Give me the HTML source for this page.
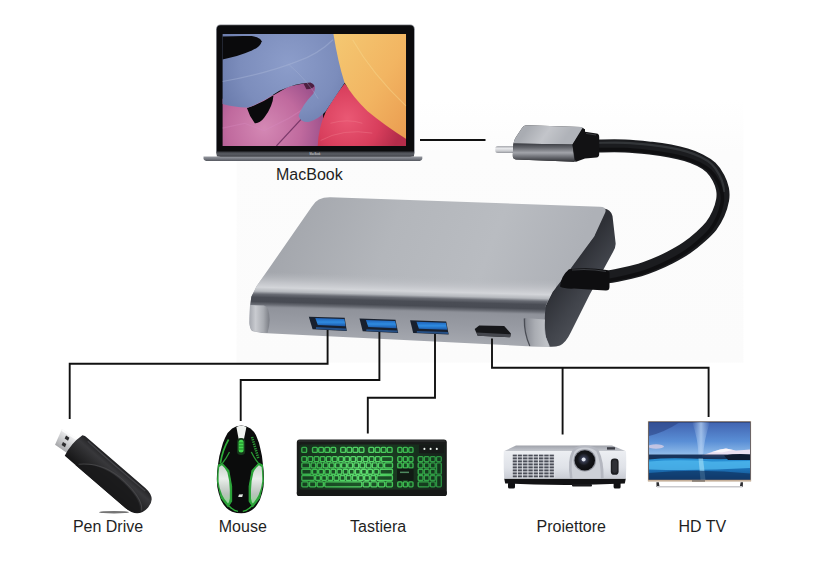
<!DOCTYPE html>
<html lang="it">
<head>
<meta charset="utf-8">
<title>Hub USB-C</title>
<style>
html,body{margin:0;padding:0;background:#fff;}
body{width:814px;height:584px;overflow:hidden;position:relative;font-family:"Liberation Sans",sans-serif;}
svg{position:absolute;left:0;top:0;display:block;}
.lbl{position:absolute;font-size:16px;line-height:18px;color:#1f1f1f;white-space:nowrap;transform:translateX(-50%);}
</style>
</head>
<body>
<svg width="814" height="584" viewBox="0 0 814 584">
<defs>
<clipPath id="cScreen"><rect x="30" y="37" width="748" height="455"/></clipPath>
<linearGradient id="gBase" x1="0" y1="0" x2="0" y2="1"><stop offset="0" stop-color="#9a9da4"/><stop offset=".45" stop-color="#7c7f87"/><stop offset="1" stop-color="#55585f"/></linearGradient>
<linearGradient id="gHinge" x1="0" y1="0" x2="0" y2="1"><stop offset="0" stop-color="#33353a"/><stop offset=".5" stop-color="#5a5d64"/><stop offset="1" stop-color="#44464c"/></linearGradient>
<radialGradient id="gPurple" gradientUnits="userSpaceOnUse" cx="200" cy="420" r="300"><stop offset="0" stop-color="#d488b4"/><stop offset=".5" stop-color="#c06a9e"/><stop offset="1" stop-color="#8a4482"/></radialGradient>
<radialGradient id="gRed" gradientUnits="userSpaceOnUse" cx="540" cy="380" r="220"><stop offset="0" stop-color="#ea5874"/><stop offset=".6" stop-color="#d83e5c"/><stop offset="1" stop-color="#b42c4a"/></radialGradient>
<radialGradient id="gBlue" gradientUnits="userSpaceOnUse" cx="300" cy="160" r="330"><stop offset="0" stop-color="#8c9dca"/><stop offset=".6" stop-color="#7c8dbc"/><stop offset="1" stop-color="#6677a8"/></radialGradient>
<linearGradient id="gYellow" x1="0" y1="0" x2="1" y2="1"><stop offset="0" stop-color="#f4c872"/><stop offset=".55" stop-color="#f2b562"/><stop offset="1" stop-color="#ea9c50"/></linearGradient>
<linearGradient id="gPlugTop" gradientUnits="userSpaceOnUse" x1="530" y1="125" x2="560" y2="146"><stop offset="0" stop-color="#a9acb2"/><stop offset=".5" stop-color="#c3c5ca"/><stop offset="1" stop-color="#b0b3b9"/></linearGradient>
<linearGradient id="gPlugFront" gradientUnits="userSpaceOnUse" x1="0" y1="143.5" x2="0" y2="162"><stop offset="0" stop-color="#3c3e44"/><stop offset=".22" stop-color="#63656b"/><stop offset=".5" stop-color="#a2a4aa"/><stop offset=".72" stop-color="#6d6f75"/><stop offset="1" stop-color="#2c2d31"/></linearGradient>
<linearGradient id="gTip" gradientUnits="userSpaceOnUse" x1="0" y1="146" x2="0" y2="153.2"><stop offset="0" stop-color="#a5a7ac"/><stop offset=".35" stop-color="#e6e7ea"/><stop offset=".7" stop-color="#c9cbcf"/><stop offset="1" stop-color="#8e9096"/></linearGradient>
<linearGradient id="gTop" gradientUnits="userSpaceOnUse" x1="300" y1="200" x2="560" y2="300"><stop offset="0" stop-color="#a4a7ad"/><stop offset=".35" stop-color="#b3b6bb"/><stop offset=".7" stop-color="#b9bcc1"/><stop offset="1" stop-color="#aeb1b7"/></linearGradient>
<linearGradient id="gEdge" gradientUnits="userSpaceOnUse" x1="270" y1="272" x2="269.06" y2="308"><stop offset="0" stop-color="#b6b9be" stop-opacity="0"/><stop offset=".28" stop-color="#c4c6cb" stop-opacity=".9"/><stop offset=".43" stop-color="#d3d5d9"/><stop offset=".54" stop-color="#b5b8bd"/><stop offset=".62" stop-color="#686b73"/><stop offset=".71" stop-color="#4a4d55"/><stop offset=".83" stop-color="#484b53"/><stop offset=".91" stop-color="#696c74"/><stop offset=".97" stop-color="#8a8d95"/><stop offset="1" stop-color="#8f929a"/></linearGradient>
<linearGradient id="gFront" gradientUnits="userSpaceOnUse" x1="270" y1="306" x2="269" y2="338"><stop offset="0" stop-color="#8f929a"/><stop offset=".5" stop-color="#999ca4"/><stop offset="1" stop-color="#a6a9b0"/></linearGradient>
<linearGradient id="gSide" gradientUnits="userSpaceOnUse" x1="560" y1="280" x2="600" y2="310"><stop offset="0" stop-color="#2e3036"/><stop offset=".5" stop-color="#40434a"/><stop offset="1" stop-color="#50535a"/></linearGradient>
<linearGradient id="gFootL" gradientUnits="userSpaceOnUse" x1="249" y1="0" x2="271" y2="0"><stop offset="0" stop-color="#a3a6ad"/><stop offset=".3" stop-color="#c9cbd0"/><stop offset=".65" stop-color="#a9acb2"/><stop offset="1" stop-color="#6f727a"/></linearGradient>
<linearGradient id="gFootR" gradientUnits="userSpaceOnUse" x1="523" y1="0" x2="547" y2="0"><stop offset="0" stop-color="#5a5d65"/><stop offset=".15" stop-color="#8d9098"/><stop offset=".5" stop-color="#aaadb3"/><stop offset="1" stop-color="#c0c3c8"/></linearGradient>
<linearGradient id="gUsb" x1="0" y1="0" x2="0" y2="1"><stop offset="0" stop-color="#1e62b8"/><stop offset=".5" stop-color="#2f8be0"/><stop offset="1" stop-color="#1b58a8"/></linearGradient>
<clipPath id="cHubFront"><path d="M330.4 197.2L600 206.8Q607.5 207.2 605 213L594.2 236.4L570.7 268.5L552.5 292L546 305Q543.5 320 546 337L550 346.7L527 346.2L262 333L252 331Q249.3 328 249.5 322L250.3 305L251.3 296.8L256.4 286.6L311.9 206.4Q317 197 330.4 197.2Z"/></clipPath>
<linearGradient id="gPenBody" gradientUnits="userSpaceOnUse" x1="0" y1="-16.5" x2="0" y2="11.6"><stop offset="0" stop-color="#222224"/><stop offset=".25" stop-color="#38383b"/><stop offset=".5" stop-color="#2c2c2e"/><stop offset="1" stop-color="#151516"/></linearGradient>
<linearGradient id="gPenTip" gradientUnits="userSpaceOnUse" x1="0" y1="-9" x2="0" y2="9"><stop offset="0" stop-color="#f4f4f5"/><stop offset=".5" stop-color="#cfd0d2"/><stop offset="1" stop-color="#a7a8ab"/></linearGradient>
<linearGradient id="gMouseSide" x1="0" y1="0" x2="0" y2="1"><stop offset="0" stop-color="#c9d6cb"/><stop offset=".35" stop-color="#e9eeea"/><stop offset=".75" stop-color="#b9c2bb"/><stop offset="1" stop-color="#8fd592"/></linearGradient>
<radialGradient id="gKbGlow" gradientUnits="userSpaceOnUse" cx="360" cy="468" r="95"><stop offset="0" stop-color="#62e474"/><stop offset=".45" stop-color="#3fbf52"/><stop offset="1" stop-color="#23803a"/></radialGradient>
<radialGradient id="gKbKey" gradientUnits="userSpaceOnUse" cx="360" cy="468" r="95"><stop offset="0" stop-color="#1f5a2a"/><stop offset=".5" stop-color="#184522"/><stop offset="1" stop-color="#12301a"/></radialGradient>
<radialGradient id="gKbBase" gradientUnits="userSpaceOnUse" cx="360" cy="468" r="95"><stop offset="0" stop-color="#1d4a27"/><stop offset=".6" stop-color="#17301d"/><stop offset="1" stop-color="#161f1a"/></radialGradient>
<linearGradient id="gProjFront" x1="0" y1="0" x2="0" y2="1"><stop offset="0" stop-color="#eceef2"/><stop offset=".6" stop-color="#dfe2e8"/><stop offset="1" stop-color="#c9ccd4"/></linearGradient>
<linearGradient id="gProjTop" x1="0" y1="0" x2="0" y2="1"><stop offset="0" stop-color="#9fa2aa"/><stop offset="1" stop-color="#c6c9d0"/></linearGradient>
<radialGradient id="gLens" cx=".45" cy=".45" r=".6"><stop offset="0" stop-color="#cfd6e6"/><stop offset=".18" stop-color="#3a3f55"/><stop offset=".5" stop-color="#15161b"/><stop offset="1" stop-color="#0a0a0c"/></radialGradient>
<pattern id="pGrille" x="512.5" y="454.4" width="5.3" height="3" patternUnits="userSpaceOnUse"><rect x="0" y="0" width="4.3" height="2" fill="#4b4e58"/></pattern>
<linearGradient id="gSky" x1="0" y1="0" x2="0" y2="1"><stop offset="0" stop-color="#4163b0"/><stop offset=".55" stop-color="#5a8fd6"/><stop offset="1" stop-color="#9cc6ee"/></linearGradient>
<linearGradient id="gSea" x1="0" y1="0" x2="0" y2="1"><stop offset="0" stop-color="#2f9fe0"/><stop offset=".45" stop-color="#1f7cc4"/><stop offset="1" stop-color="#134a86"/></linearGradient>
<linearGradient id="gMilky" x1="0" y1="0" x2="1" y2="0"><stop offset="0" stop-color="#a9c8f0" stop-opacity="0"/><stop offset=".5" stop-color="#b9d4f4" stop-opacity=".75"/><stop offset="1" stop-color="#a9c8f0" stop-opacity="0"/></linearGradient>
<clipPath id="cTv"><rect x="649" y="422.2" width="101" height="57.4"/></clipPath>
<linearGradient id="gBg" x1="0" y1="0" x2="0" y2="1"><stop offset="0" stop-color="#ffffff"/><stop offset=".2" stop-color="#fcfcfc"/><stop offset="1" stop-color="#fbfbfb"/></linearGradient>

</defs>
<rect width="814" height="584" fill="#ffffff"/>
<rect x="236.6" y="100" width="506.8" height="262.6" fill="url(#gBg)"/>

<g id="laptop">
<!-- base -->
<path d="M203.5 156.4H422.3V158.2Q422.3 161 418 161H208Q203.5 161 203.5 158.2Z" fill="url(#gBase)"/>
<!-- lid -->
<rect x="216" y="24.5" width="198.8" height="132.5" rx="4.5" fill="#8d9097"/>
<rect x="216.8" y="25.3" width="197.2" height="131" rx="4" fill="#0b0b0d"/>
<rect x="216.8" y="151.4" width="197.2" height="5" fill="url(#gHinge)"/>
<text x="315" y="155.3" font-family="Liberation Sans, sans-serif" font-size="2.6" fill="#ddd" text-anchor="middle">MacBook</text>
<!-- screen -->
<g transform="translate(215,25) scale(0.2457)" clip-path="url(#cScreen)">
<rect x="30" y="37" width="748" height="455" fill="#0a0a0c"/>
<!-- purple leaf -->
<path d="M30 300L240 285L300 250L400 230L440 300L440 492H30Z" fill="url(#gPurple)"/>
<path d="M30 420L120 400L200 430L300 380L380 330" stroke="#d88ac0" stroke-width="5" fill="none" opacity=".35"/>
<path d="M360 238Q400 226 412 240Q400 262 372 262Z" fill="#3a1430" opacity=".8"/>
<path d="M250 492L400 330" stroke="#5a2050" stroke-width="5" fill="none" opacity=".7"/>
<!-- black hole -->
<path d="M130 338Q190 318 238 286Q236 330 200 378Q182 402 162 400Q140 372 130 338Z" fill="#0a0a0c"/>
<!-- red leaf -->
<path d="M418 492Q420 420 452 350Q490 285 528 238Q600 340 778 462V492Z" fill="url(#gRed)"/>
<path d="M430 470Q520 420 640 440M470 400Q540 380 600 400" stroke="#f08090" stroke-width="4" fill="none" opacity=".4"/>
<!-- blue leaf -->
<path d="M30 37V322Q90 338 135 336Q200 312 262 268Q330 236 388 234Q418 244 400 280Q352 330 340 370Q350 398 385 394Q425 380 450 352Q490 290 530 232L500 37Z" fill="url(#gBlue)"/>
<path d="M30 230Q200 200 330 150Q420 120 480 60" stroke="#a9b6d6" stroke-width="5" fill="none" opacity=".45"/>
<path d="M300 160Q380 230 420 300" stroke="#a9b6d6" stroke-width="4" fill="none" opacity=".35"/>
<path d="M30 47Q100 43 150 45Q185 50 190 66Q186 88 150 104Q90 130 30 140Z" fill="#0a0a0c"/>
<!-- yellow leaf -->
<path d="M482 37H778V464Q690 408 620 350Q560 292 527 234Q500 150 482 37Z" fill="url(#gYellow)"/>
<path d="M560 60Q640 200 778 330" stroke="#f7d68a" stroke-width="5" fill="none" opacity=".5"/>
</g>
</g>

<g id="cable">
<!-- cable -->
<path d="M596.0 146.0C600.8 146.0 615.7 145.6 625.0 146.0C634.3 146.4 644.1 147.5 651.6 148.3C659.1 149.1 664.3 149.9 670.0 151.0C675.7 152.1 681.0 153.3 686.0 154.8C691.0 156.3 695.8 158.1 700.0 160.2C704.2 162.3 707.9 164.5 711.0 167.5C714.1 170.5 716.6 174.4 718.5 178.0C720.4 181.6 721.8 185.3 722.5 189.0C723.2 192.7 723.3 195.9 722.6 200.0C721.9 204.1 720.3 209.4 718.4 213.7C716.5 218.0 714.2 222.1 711.2 226.0C708.2 229.9 704.4 233.3 700.3 237.0C696.2 240.7 691.6 244.5 686.6 247.9C681.6 251.3 675.6 254.6 670.1 257.5C664.6 260.4 658.7 263.0 653.7 265.1C648.7 267.2 646.1 268.2 640.0 269.9C633.9 271.6 623.0 274.1 617.0 275.3C611.0 276.5 606.2 277.0 604.0 277.3" fill="none" stroke="#1b1c1f" stroke-width="13"/>
<path d="M596.0 146.0C600.8 146.0 615.7 145.6 625.0 146.0C634.3 146.4 644.1 147.5 651.6 148.3C659.1 149.1 664.3 149.9 670.0 151.0C675.7 152.1 681.0 153.3 686.0 154.8C691.0 156.3 695.8 158.1 700.0 160.2C704.2 162.3 707.9 164.5 711.0 167.5C714.1 170.5 716.6 174.4 718.5 178.0C720.4 181.6 721.8 185.3 722.5 189.0C723.2 192.7 723.3 195.9 722.6 200.0C721.9 204.1 720.3 209.4 718.4 213.7C716.5 218.0 714.2 222.1 711.2 226.0C708.2 229.9 704.4 233.3 700.3 237.0C696.2 240.7 691.6 244.5 686.6 247.9C681.6 251.3 675.6 254.6 670.1 257.5C664.6 260.4 658.7 263.0 653.7 265.1C648.7 267.2 646.1 268.2 640.0 269.9C633.9 271.6 623.0 274.1 617.0 275.3C611.0 276.5 606.2 277.0 604.0 277.3" fill="none" stroke="#3b3d42" stroke-width="2.2" opacity=".75" transform="translate(0.8,-3.2)" stroke-dasharray="150 400"/>
<path d="M596.0 146.0C600.8 146.0 615.7 145.6 625.0 146.0C634.3 146.4 644.1 147.5 651.6 148.3C659.1 149.1 664.3 149.9 670.0 151.0C675.7 152.1 681.0 153.3 686.0 154.8C691.0 156.3 695.8 158.1 700.0 160.2C704.2 162.3 707.9 164.5 711.0 167.5C714.1 170.5 716.6 174.4 718.5 178.0C720.4 181.6 721.8 185.3 722.5 189.0C723.2 192.7 723.3 195.9 722.6 200.0C721.9 204.1 720.3 209.4 718.4 213.7C716.5 218.0 714.2 222.1 711.2 226.0C708.2 229.9 704.4 233.3 700.3 237.0C696.2 240.7 691.6 244.5 686.6 247.9C681.6 251.3 675.6 254.6 670.1 257.5C664.6 260.4 658.7 263.0 653.7 265.1C648.7 267.2 646.1 268.2 640.0 269.9C633.9 271.6 623.0 274.1 617.0 275.3C611.0 276.5 606.2 277.0 604.0 277.3" fill="none" stroke="#0c0c0e" stroke-width="3.5" opacity=".8" transform="translate(-0.6,3.6)"/>
<!-- plug tip -->
<rect x="495.3" y="146.1" width="20" height="7" rx="2.5" fill="url(#gTip)"/>
<!-- plug body -->
<path d="M526.3 125.3L581 127L585 129.5L585 146L574.5 161.8L516 159.5Q512.5 159 512.8 155L513.4 144Q514 140 516 137L522 128Q523.5 125.3 526.3 125.3Z" fill="#2a2b2f"/>
<path d="M526.3 125.3L581 127Q584 127.3 582.5 130L572.5 144.6L513.4 143.6Q514 140 516 137L522 128Q523.5 125.3 526.3 125.3Z" fill="url(#gPlugTop)"/>
<path d="M513.4 143.6L572.5 144.6L574.5 161.8L516 159.5Q512.5 159 512.8 155Z" fill="url(#gPlugFront)"/>
<!-- strain relief top -->
<path d="M582.5 128L585 129.5V131.8L596.5 133.6Q599.2 134 599.2 137V154.2Q599.2 157 596.4 157.6L585 158.6L575.4 161.9L572.4 144.6Z" fill="#121214"/>
<path d="M586 133.4L596 135" stroke="#3a3c40" stroke-width="1" fill="none"/>
</g>

<g id="hub">
<!-- side face (dark) -->
<path d="M604 208.5Q610.5 209 612.5 216L615.6 243Q616 247 613 252L590 294L570.6 332.8Q566 342.5 560 345.5Q555 347.2 549 346.7L540 320L552 290L594 236Z" fill="url(#gSide)"/>
<!-- top surface -->
<path d="M330.4 197.2L600 206.8Q607.5 207.2 605 213L594.2 236.4L570.7 268.5L552.5 292L546 305L250.3 305L251.3 296.8L256.4 286.6L311.9 206.4Q317 197 330.4 197.2Z" fill="url(#gTop)"/>
<!-- front area -->
<g clip-path="url(#cHubFront)">
<path d="M245 306L556 314V350H245Z" fill="url(#gFront)"/>
<path d="M245 269.4L556 277.2L556 315.2L245 307.4Z" fill="url(#gEdge)"/>
</g>
<!-- feet -->
<path d="M250 305Q249.2 315 249.6 324Q250 330 254 331.5L267.5 333Q271.5 320 268 309Q266.5 306 264 305.5Z" fill="url(#gFootL)"/>
<path d="M524.5 318L545 319.5Q543.5 330 546 338L549.5 346.7L529.5 346.2Q524 333 524.5 318Z" fill="url(#gFootR)"/>
<path id="footline" d="M524.3 318.5Q524 333 529.8 346" stroke="#4a4d55" stroke-width="1.2" fill="none"/>
<!-- USB ports -->
<g>
<path d="M308.8 316.7L344.7 317.8L346.8 330.9L312.6 329.2Z" fill="#18202e"/>
<path d="M315.3 318.1L344.4 319.1L345.5 326.2L317.8 325.0Z" fill="url(#gUsb)"/>
<path d="M316.1 327.1L346.1 328.5L346.4 330.5L315.9 329.0Z" fill="#2a5c9c" opacity=".8"/>
<path d="M359.5 318.4L395.5 319.8L398.2 333.0L362.7 331.3Z" fill="#18202e"/>
<path d="M365.9 319.9L395.2 321.1L396.7 328.2L368.3 327.0Z" fill="url(#gUsb)"/>
<path d="M366.4 329.2L397.4 330.6L397.8 332.6L366.2 331.1Z" fill="#2a5c9c" opacity=".8"/>
<path d="M410.1 320.3L446.2 321.5L448.7 334.5L413.2 333.0Z" fill="#18202e"/>
<path d="M416.5 321.8L445.9 322.8L447.3 329.8L418.9 328.7Z" fill="url(#gUsb)"/>
<path d="M416.9 330.9L447.9 332.1L448.3 334.1L416.7 332.8Z" fill="#2a5c9c" opacity=".8"/>
</g>
<!-- HDMI -->
<path d="M479.2 325.4L504.2 326.1L510.9 333.5L510.1 337.2L477.7 335.7L474.7 329.1Z" fill="#16171a"/>
<path d="M476.5 332.6L510.6 334.2L510.1 337.2L477.7 335.7Z" fill="#45474e"/>
<!-- strain relief at hub -->
<path d="M569 269.3Q588 266.8 606.5 270Q609.5 270.5 609.5 274V287Q609.5 290.5 606 290.5Q588 289.5 574 288.6Q564 289 560 286.5Q561 276 569 269.3Z" fill="#0e0e10"/>
<path d="M572 270Q590 268.5 606 271.5" stroke="#3a3c40" stroke-width="1.2" fill="none"/>
</g>

<g fill="none" stroke="#111" stroke-width="1.9" stroke-linejoin="miter">
<path d="M420 140H485.5"/>
<path d="M327.6 330V363.7H69.7V419"/>
<path d="M379.4 332V380H240.7V421"/>
<path d="M435 334V397.7H367.8V433.5"/>
<path d="M492 338.5V367.8H708.6V417"/>
<path d="M562.6 367.8V434.5"/>
</g>
<g id="pen">
<ellipse cx="114" cy="512.2" rx="15" ry="1.2" fill="#3a3a3a" opacity=".7"/>
<g transform="translate(72.3,447) rotate(40.7)">
<!-- metal tip -->
<path d="M-19.6 -6.9L-2.2 -9.7L3.5 7.6L-14.6 9.5Z" fill="url(#gPenTip)"/>
<path d="M-19.6 -6.9L-2.2 -9.7L-1.6 -7.8L-18.6 -5.2Z" fill="#ffffff" opacity=".8"/>
<path d="M-12.2 -4.6l4 -.5l.9 3.2l-4 .5z" fill="#2c2c2e"/>
<path d="M-10.4 2.2l4 -.5l.9 3.2l-4 .5z" fill="#2c2c2e"/>
<!-- body -->
<path d="M0 -15.5Q2 -17 6 -16.6H82Q97 -16.3 97 -3.5Q96.5 11.6 80 11.6H0Q-3.5 -2 0 -15.5Z" fill="url(#gPenBody)"/>
<path d="M14 11.6Q32 -8 62 -6.5Q88 -5 93 5Q88 11.6 80 11.6Z" fill="#1a1a1b" opacity=".9"/>
<path d="M16 9Q34 -9.5 62 -8Q88 -6.5 94 3" stroke="#4b4b4e" stroke-width="1" fill="none" opacity=".8"/>
<path d="M8 -14.5Q40 -13.5 84 -14.2" stroke="#55555a" stroke-width="1.2" fill="none" opacity=".6"/>
</g>
</g>

<g id="mouse">
<!-- body -->
<path d="M241.3 425.6Q246 425.6 250.5 428.5Q255 432 257 437.7Q259.5 443 260.5 449.3Q262.3 456 262.8 463.2Q264 471 264 479.3Q264 487 262.1 493.2Q260.5 500 257 504.8Q254 509.5 248.9 511.7Q245 513.3 241.3 513.3Q236.5 513.3 232.1 511.7Q227 509.5 223.7 504.8Q220.3 500 218.7 493.2Q216.8 487 216.8 479.3Q216.8 471 218.2 463.2Q219 456 221.2 449.3Q222.5 443 225.1 437.7Q227.5 432 232.1 428.5Q236.5 425.6 241.3 425.6Z" fill="#0b0c0c"/>
<!-- green glow under side panels -->
<g fill="#2ca53a" stroke="#2ca53a" stroke-width="1.1" stroke-linejoin="round">
<path d="M218.4 465L221.9 463.2L228.8 470.6L231.6 486.3V501.3L228.1 506.6L221.2 497.8L217.5 481.6Z"/>
<path d="M262.4 465L258.9 463.2L252 470.6L249.2 486.3V501.3L252.7 506.6L259.6 497.8L263.3 481.6Z"/>
</g>
<!-- silver side panels -->
<path d="M219.2 467L221.9 465.2Q225.6 468 227.4 472.5Q229.6 480 229.8 490V498.5Q229.2 502.5 228 503.6Q224 499 222.2 495Q219.2 488.5 218.6 481.6Q218.4 473.5 219.2 467Z" fill="url(#gMouseSide)"/>
<path d="M261.6 467L258.9 465.2Q255.2 468 253.4 472.5Q251.2 480 251 490V498.5Q251.6 502.5 252.8 503.6Q256.8 499 258.6 495Q261.6 488.5 262.2 481.6Q262.4 473.5 261.6 467Z" fill="url(#gMouseSide)"/>
<!-- lower converging green lines -->
<path d="M229 506Q233 510.5 238 511.3" stroke="#2fae3a" stroke-width="1.3" fill="none"/>
<path d="M251.8 506Q247.8 510.5 242.8 511.3" stroke="#2fae3a" stroke-width="1.3" fill="none"/>
<!-- upper green lines -->
<path d="M228.6 439.5Q222.5 450 220.4 463" stroke="#2fae3a" stroke-width="1.7" fill="none"/>
<path d="M229.5 452Q226 459 222.5 463" stroke="#2a9a35" stroke-width="1.3" fill="none"/>
<path d="M252 437L258.5 459" stroke="#2a9a35" stroke-width="2.6" fill="none" stroke-dasharray="1.3 1"/>
<path d="M251.3 452Q254.8 459 258.3 463" stroke="#2a9a35" stroke-width="1.3" fill="none"/>
<!-- white centre stripe -->
<path d="M236.4 427Q241.3 424.6 246.4 427L243.6 441H239Z" fill="#f0f3f0"/>
<!-- scroll wheel -->
<rect x="237" y="438" width="8.2" height="17" rx="3.8" fill="#16381b"/>
<rect x="238.6" y="439.8" width="5" height="12.6" rx="2.5" fill="#43d94f"/>
<path d="M238.6 443h5M238.6 446h5M238.6 449h5" stroke="#176a20" stroke-width=".8"/>
<!-- logo -->
<path d="M239 494.6l4-.3l-.8 2.6l-4 .2z" fill="#dfe6df"/>
</g>

<g id="keyb">
<rect x="296.8" y="439.6" width="150" height="56.4" rx="3" fill="#191b1a"/>
<rect x="298" y="440.2" width="147.4" height="1.6" rx=".8" fill="#3b3e3d" opacity=".6"/>
<rect x="299.6" y="444.4" width="145.4" height="45" rx="2" fill="url(#gKbBase)"/>
<g fill="url(#gKbKey)" stroke="url(#gKbGlow)" stroke-width="1.35">
<rect x="301.8" y="447.4" width="4.8" height="5.0" rx="1"/>
<rect x="312.5" y="447.4" width="4.8" height="5.0" rx="1"/>
<rect x="318.7" y="447.4" width="4.8" height="5.0" rx="1"/>
<rect x="324.8" y="447.4" width="4.8" height="5.0" rx="1"/>
<rect x="330.9" y="447.4" width="4.8" height="5.0" rx="1"/>
<rect x="340.7" y="447.4" width="4.8" height="5.0" rx="1"/>
<rect x="346.9" y="447.4" width="4.8" height="5.0" rx="1"/>
<rect x="353.0" y="447.4" width="4.8" height="5.0" rx="1"/>
<rect x="359.1" y="447.4" width="4.8" height="5.0" rx="1"/>
<rect x="368.9" y="447.4" width="4.8" height="5.0" rx="1"/>
<rect x="375.1" y="447.4" width="4.8" height="5.0" rx="1"/>
<rect x="381.2" y="447.4" width="4.8" height="5.0" rx="1"/>
<rect x="387.3" y="447.4" width="4.8" height="5.0" rx="1"/>
<rect x="397.8" y="447.4" width="4.2" height="5.0" rx="1"/>
<rect x="403.3" y="447.4" width="4.2" height="5.0" rx="1"/>
<rect x="408.8" y="447.4" width="4.2" height="5.0" rx="1"/>
<rect x="301.8" y="456.6" width="4.8" height="5.0" rx="1"/>
<rect x="307.9" y="456.6" width="4.8" height="5.0" rx="1"/>
<rect x="314.1" y="456.6" width="4.8" height="5.0" rx="1"/>
<rect x="320.2" y="456.6" width="4.8" height="5.0" rx="1"/>
<rect x="326.3" y="456.6" width="4.8" height="5.0" rx="1"/>
<rect x="332.4" y="456.6" width="4.8" height="5.0" rx="1"/>
<rect x="338.6" y="456.6" width="4.8" height="5.0" rx="1"/>
<rect x="344.7" y="456.6" width="4.8" height="5.0" rx="1"/>
<rect x="350.8" y="456.6" width="4.8" height="5.0" rx="1"/>
<rect x="357.0" y="456.6" width="4.8" height="5.0" rx="1"/>
<rect x="363.1" y="456.6" width="4.8" height="5.0" rx="1"/>
<rect x="369.2" y="456.6" width="4.8" height="5.0" rx="1"/>
<rect x="375.4" y="456.6" width="4.8" height="5.0" rx="1"/>
<rect x="381.5" y="456.6" width="10.9" height="5.0" rx="1"/>
<rect x="301.8" y="462.9" width="7.9" height="5.0" rx="1"/>
<rect x="311.0" y="462.9" width="4.8" height="5.0" rx="1"/>
<rect x="317.1" y="462.9" width="4.8" height="5.0" rx="1"/>
<rect x="323.3" y="462.9" width="4.8" height="5.0" rx="1"/>
<rect x="329.4" y="462.9" width="4.8" height="5.0" rx="1"/>
<rect x="335.5" y="462.9" width="4.8" height="5.0" rx="1"/>
<rect x="341.6" y="462.9" width="4.8" height="5.0" rx="1"/>
<rect x="347.8" y="462.9" width="4.8" height="5.0" rx="1"/>
<rect x="353.9" y="462.9" width="4.8" height="5.0" rx="1"/>
<rect x="360.0" y="462.9" width="4.8" height="5.0" rx="1"/>
<rect x="366.2" y="462.9" width="4.8" height="5.0" rx="1"/>
<rect x="372.3" y="462.9" width="4.8" height="5.0" rx="1"/>
<rect x="378.4" y="462.9" width="4.8" height="5.0" rx="1"/>
<rect x="384.6" y="462.9" width="7.9" height="5.0" rx="1"/>
<rect x="301.8" y="469.2" width="9.4" height="5.0" rx="1"/>
<rect x="312.5" y="469.2" width="4.8" height="5.0" rx="1"/>
<rect x="318.7" y="469.2" width="4.8" height="5.0" rx="1"/>
<rect x="324.8" y="469.2" width="4.8" height="5.0" rx="1"/>
<rect x="330.9" y="469.2" width="4.8" height="5.0" rx="1"/>
<rect x="337.0" y="469.2" width="4.8" height="5.0" rx="1"/>
<rect x="343.2" y="469.2" width="4.8" height="5.0" rx="1"/>
<rect x="349.3" y="469.2" width="4.8" height="5.0" rx="1"/>
<rect x="355.4" y="469.2" width="4.8" height="5.0" rx="1"/>
<rect x="361.6" y="469.2" width="4.8" height="5.0" rx="1"/>
<rect x="367.7" y="469.2" width="4.8" height="5.0" rx="1"/>
<rect x="373.8" y="469.2" width="4.8" height="5.0" rx="1"/>
<rect x="380.0" y="469.2" width="12.5" height="5.0" rx="1"/>
<rect x="301.8" y="475.5" width="12.5" height="5.0" rx="1"/>
<rect x="315.6" y="475.5" width="4.8" height="5.0" rx="1"/>
<rect x="321.7" y="475.5" width="4.8" height="5.0" rx="1"/>
<rect x="327.9" y="475.5" width="4.8" height="5.0" rx="1"/>
<rect x="334.0" y="475.5" width="4.8" height="5.0" rx="1"/>
<rect x="340.1" y="475.5" width="4.8" height="5.0" rx="1"/>
<rect x="346.2" y="475.5" width="4.8" height="5.0" rx="1"/>
<rect x="352.4" y="475.5" width="4.8" height="5.0" rx="1"/>
<rect x="358.5" y="475.5" width="4.8" height="5.0" rx="1"/>
<rect x="364.6" y="475.5" width="4.8" height="5.0" rx="1"/>
<rect x="370.8" y="475.5" width="4.8" height="5.0" rx="1"/>
<rect x="376.9" y="475.5" width="15.5" height="5.0" rx="1"/>
<rect x="301.8" y="481.8" width="6.3" height="5.0" rx="1"/>
<rect x="309.5" y="481.8" width="6.3" height="5.0" rx="1"/>
<rect x="317.1" y="481.8" width="6.3" height="5.0" rx="1"/>
<rect x="324.8" y="481.8" width="37.0" height="5.0" rx="1"/>
<rect x="363.1" y="481.8" width="6.3" height="5.0" rx="1"/>
<rect x="370.8" y="481.8" width="6.3" height="5.0" rx="1"/>
<rect x="378.4" y="481.8" width="6.3" height="5.0" rx="1"/>
<rect x="386.1" y="481.8" width="6.3" height="5.0" rx="1"/>
<rect x="397.8" y="456.6" width="4.2" height="5.0" rx="1"/>
<rect x="403.3" y="456.6" width="4.2" height="5.0" rx="1"/>
<rect x="408.8" y="456.6" width="4.2" height="5.0" rx="1"/>
<rect x="397.8" y="462.9" width="4.2" height="5.0" rx="1"/>
<rect x="403.3" y="462.9" width="4.2" height="5.0" rx="1"/>
<rect x="408.8" y="462.9" width="4.2" height="5.0" rx="1"/>
<rect x="403.3" y="475.5" width="4.2" height="5.0" rx="1"/>
<rect x="397.8" y="481.8" width="4.2" height="5.0" rx="1"/>
<rect x="403.3" y="481.8" width="4.2" height="5.0" rx="1"/>
<rect x="408.8" y="481.8" width="4.2" height="5.0" rx="1"/>
<rect x="418.2" y="456.6" width="4.8" height="5.0" rx="1"/>
<rect x="424.3" y="456.6" width="4.8" height="5.0" rx="1"/>
<rect x="430.4" y="456.6" width="4.8" height="5.0" rx="1"/>
<rect x="418.2" y="462.9" width="4.8" height="5.0" rx="1"/>
<rect x="424.3" y="462.9" width="4.8" height="5.0" rx="1"/>
<rect x="430.4" y="462.9" width="4.8" height="5.0" rx="1"/>
<rect x="418.2" y="469.2" width="4.8" height="5.0" rx="1"/>
<rect x="424.3" y="469.2" width="4.8" height="5.0" rx="1"/>
<rect x="430.4" y="469.2" width="4.8" height="5.0" rx="1"/>
<rect x="418.2" y="475.5" width="4.8" height="5.0" rx="1"/>
<rect x="424.3" y="475.5" width="4.8" height="5.0" rx="1"/>
<rect x="430.4" y="475.5" width="4.8" height="5.0" rx="1"/>
<rect x="430.4" y="481.8" width="4.8" height="5.0" rx="1"/>
<rect x="418.2" y="481.8" width="10.9" height="5.0" rx="1"/>
<rect x="436.5" y="456.6" width="4.8" height="5.0" rx="1"/>
<rect x="436.5" y="462.9" width="4.8" height="11.3" rx="1"/>
<rect x="436.5" y="475.5" width="4.8" height="11.3" rx="1"/>
</g>
<rect x="397" y="468.8" width="16.6" height="12" rx="1" fill="#111a14"/>
<rect x="400" y="471.6" width="9" height="1.5" fill="#4f8a60"/>
<rect x="419" y="444.6" width="25" height="8.6" rx="1" fill="#161a18"/>
<g fill="#eef5ef"><circle cx="424.4" cy="448.9" r="1.05"/><circle cx="430.6" cy="448.9" r="1.05"/><circle cx="436.8" cy="448.9" r="1.05"/></g>
<rect x="296.8" y="490.2" width="150" height="5.8" rx="2.6" fill="#161817"/>
</g>

<g id="proj">
<!-- feet -->
<rect x="508" y="482" width="7" height="6.6" rx="1.6" fill="#101012"/>
<rect x="613.6" y="482" width="7" height="6.6" rx="1.6" fill="#101012"/>
<!-- base -->
<path d="M504.2 478.4H625.8L624.8 483.6Q590 485.2 565 485Q530 484.6 505.2 483.4Z" fill="#121214"/>
<rect x="572" y="484" width="20" height="2.6" rx="1" fill="#1a1a1d"/>
<!-- top face -->
<path d="M516 445.6H612L626 451.3H503.8Z" fill="url(#gProjTop)"/>
<!-- front face -->
<path d="M503.8 451.3H626Q626.6 465 625.8 478.8H504.2Q503.4 465 503.8 451.3Z" fill="url(#gProjFront)"/>
<!-- grille -->
<rect x="512.5" y="454.4" width="42" height="23.4" fill="#e3e5ea"/>
<rect x="512.5" y="454.4" width="42" height="23.4" fill="url(#pGrille)"/>
<!-- lens housing -->
<path d="M570 478.6Q567 460 572.5 450Q576 445.8 584.8 445.6Q595 445.8 598.5 450Q604 461 603.6 478.6Z" fill="#b4b7c0"/>
<path d="M572.5 478.6Q570 461 574.5 451.5Q578 447.4 584.8 447.4Q593 447.6 596.5 451.5Q601 462 600.8 478.6Z" fill="#cdd0d7"/>
<circle cx="584.8" cy="460.4" r="11.2" fill="#8e919b"/>
<circle cx="584.8" cy="460.4" r="10.2" fill="url(#gLens)"/>
<circle cx="583.6" cy="459.6" r="2" fill="#e8ecf6" opacity=".9"/>
<!-- sensor -->
<rect x="610.8" y="458.4" width="7.8" height="16.4" rx="3.4" fill="#1d1e22"/>
<rect x="612.2" y="460" width="5" height="13" rx="2.4" fill="#2f3036"/>
<!-- label on top -->
<rect x="607" y="447.2" width="8" height="2.4" fill="#3a3c44"/>
</g>

<g id="tv">
<rect x="647.9" y="421.1" width="103.2" height="60.2" fill="#b9a592"/>
<rect x="648.5" y="421.7" width="102" height="58.4" fill="#20263a"/>
<g clip-path="url(#cTv)">
<rect x="649" y="422.2" width="101" height="35" fill="url(#gSky)"/>
<path d="M649 422H680Q665 432 649 436Z" fill="#2a3f80" opacity=".55"/>
<path d="M692 422L710 422Q704 440 703 456L698.5 456Q698 438 692 422Z" fill="url(#gMilky)"/>
<ellipse cx="656" cy="446.5" rx="8" ry="2.2" fill="#e6d3e6" opacity=".7"/>
<rect x="649" y="455" width="101" height="25" fill="url(#gSea)"/>
<!-- mountains -->
<path d="M702 455.5L712 452L720 449.6L726 448.6L736 450.6L744 450L750 449.5V456.5H702Z" fill="#eadff0"/>
<path d="M712 452L720 449.6L726 448.6L733 450L722 452.5Z" fill="#ffffff" opacity=".7"/>
<path d="M649 454.6H750V458.6Q720 460 690 458.6Q665 457.8 649 459.5Z" fill="#15284c" opacity=".9"/>
<path d="M724 455.5Q738 453.2 750 454.6V460H728Z" fill="#0f1a30"/>
<!-- sea light -->
<path d="M649 461.5Q680 459 712 461.5L750 461V468Q700 471 649 469.5Z" fill="#4fb8ee" opacity=".8"/>
<path d="M698.5 458.5L703 458.5L705.5 480H700.5Z" fill="#a5ddf7" opacity=".6"/>
<path d="M649 473Q700 468.5 750 473.5V480H649Z" fill="#0e2f5c" opacity=".65"/>
</g>
<rect x="647.9" y="479.8" width="103.2" height="1.6" fill="#c6b09a"/>
<rect x="692" y="480" width="13" height="1.8" fill="#8a8078"/>
<!-- stand -->
<path d="M656.4 482.2L658.8 482.2L659.6 487H656.6Z" fill="#2e2e32"/>
<path d="M743 482.2L740.6 482.2L739.8 487H742.8Z" fill="#2e2e32"/>
<rect x="657" y="486" width="85.4" height="1.5" fill="#c9c9cd"/>
</g>

</svg>
<div class="lbl" style="left:309.4px;top:166px;">MacBook</div>
<div class="lbl" style="left:108px;top:518.4px;">Pen Drive</div>
<div class="lbl" style="left:242.8px;top:518.4px;">Mouse</div>
<div class="lbl" style="left:378.1px;top:518.4px;">Tastiera</div>
<div class="lbl" style="left:571.3px;top:518.4px;">Proiettore</div>
<div class="lbl" style="left:702.4px;top:518.4px;">HD TV</div>
</body>
</html>
